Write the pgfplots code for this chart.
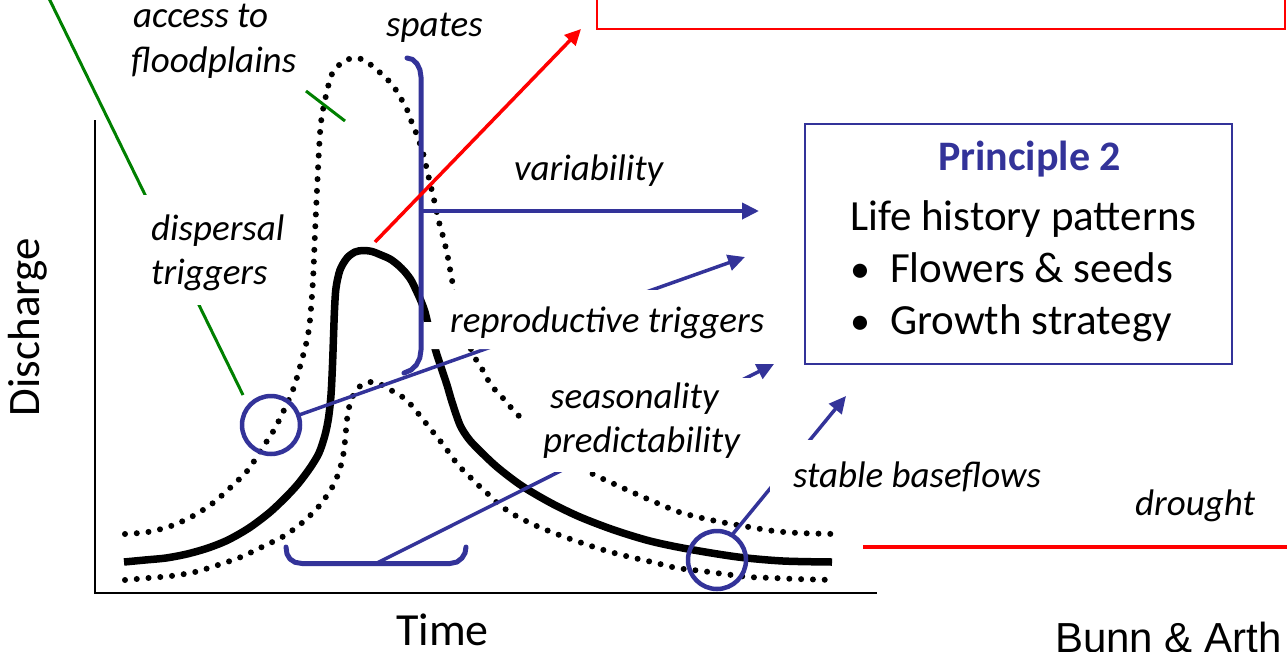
\documentclass[border=0pt]{standalone}
\usepackage{fontspec}
\setmainfont{Carlito}
\newfontfamily\arialfont{Liberation Sans}
\usepackage{pgfplots}
\pgfplotsset{compat=1.18}
\usetikzlibrary{arrows.meta}
\definecolor{pblue}{RGB}{51,51,153}
\definecolor{pgreen}{RGB}{0,128,0}
\definecolor{pred}{RGB}{255,0,0}
\newcommand\lab{\fontsize{37}{44}\selectfont\itshape}
\newcommand\bigtxt{\fontsize{43}{50}\selectfont}
\begin{document}
\begin{tikzpicture}
\begin{axis}[
  width=1287pt, height=651pt, scale only axis,
  xmin=0, xmax=1287, ymin=0, ymax=651, y dir=reverse,
  hide axis, clip=true,
]
% axes of the sketch
\addplot[black, line width=2pt] coordinates {(95,120)(95,593)(877,593)};
% upper dotted envelope
\addplot[black, smooth, line width=6pt, line cap=round, dash pattern=on 0pt off 11.8pt] coordinates {
(125,534)(148,532)(171,526)(193,516)(213,503)(231,487)(248,470)(261,450)(274,430)(285,408)(294,387)(301,363)(307,340)(310,320)(313,280)(315,233)(317,190)(319,150)(321,122)(325,100)(332,74)(344,61)(357,58)(367,62)(377,70)(386,78)(394,87)(400,97)(406,107)(410,118)(415,130)(419,141)(423,153)(427,170)(431,187)(435,204)(439,222)(444,240)(448,258)(452,280)(460,320)(473,354)(481,367)(491,385)(502,397)(516,413)(540,436)(565,456)(591,473)(612,483)(634,493)(657,503)(679,512)(702,518)(726,523)(749,527)(774,531)(799,533)(835,534)};
% lower dotted envelope
\addplot[black, smooth, line width=6pt, line cap=round, dash pattern=on 0pt off 11.8pt] coordinates {
(125,580)(148,578)(171,576)(195,572)(218,565)(241,557)(264,546)(284,536)(303,522)(320,505)(334,484)(341,465)(344,450)(346,430)(348,412)(352,398)(358,388)(366,383)(374,382)(384,386)(394,392)(404,398)(413,407)(421,417)(429,427)(437,437)(445,447)(452,457)(460,467)(469,476)(477,484)(486,492)(495,501)(508,511)(520,518)(539,527)(562,536)(585,544)(607,551)(630,557)(652,562)(677,568)(702,571)(724,574)(749,577)(774,578)(796,579)(835,580)};
% solid hydrograph
\addplot[black, smooth, line width=7.5pt, line cap=butt] coordinates {
(124,562)(145,560)(166,558)(187,554)(208,548)(228,540)(249,528)(269,513)(285,498)(298,484)(310,468)(319,453)(325,435)(328.5,418)(331,395)(332.5,365)(333.5,337)(334.5,310)(336,288)(340,270)(347,258)(355,252)(363,250.5)(372,251.5)(381,255)(390,259)(398,265)(405,272)(411,280)(416,290)(421,301)(425,312)(428,324)(432,338)(437,355)(442,370)(447,385)(452,402)(460,425)(468,438)(477,448)(497,467)(522,486)(551,503)(580,517)(614,530)(650,541)(688,549)(738,557)(783,561)(832,562)};
% green leader lines
\addplot[pgreen, line width=3pt] coordinates {(40,-20)(243,395)};
\addplot[pgreen, line width=3pt] coordinates {(306,91)(345,121)};
% blue brackets
\addplot[pblue, line width=5pt, line join=round, line cap=round] coordinates {
(407,58)(412.4,59.4)(416.9,63.6)(419.9,69.7)(421,77)(421,350)(419.8,358)(416.3,365)(411,370)(404,373)};
\addplot[pblue, line width=5pt, line join=round, line cap=round] coordinates {
(286,547)(287,554)(290,559)(295,562.3)(302,563.5)(450,563.5)(457,562)(462,558)(465,553)(466,547)};
% blue connector lines and arrows
\addplot[pblue, line width=4pt, -{Triangle[length=17pt,width=16pt]}] coordinates {(421,211)(759,211)};
\addplot[pblue, line width=3.5pt, -{Triangle[length=17pt,width=16pt]}] coordinates {(299,415)(745,257)};
\addplot[pblue, line width=3.5pt, -{Triangle[length=17pt,width=16pt]}] coordinates {(377,563)(774,364)};
\addplot[pblue, line width=3.5pt, -{Triangle[length=17pt,width=16pt]}] coordinates {(732,535)(846,396)};
% circles
\addplot[only marks, mark=o, mark size=29pt, mark options={pblue, line width=4.5pt}] coordinates {(271,425)(717,560)};
% red elements
\addplot[pred, line width=3.5pt, -{Triangle[length=16pt,width=15pt]}] coordinates {(375,242)(581,29)};
\addplot[pred, line width=2.5pt] coordinates {(597,-20)(597,29)(1285,29)(1285,-20)};
\addplot[pred, line width=4pt] coordinates {(863,547)(1300,547)};
% principle box
\addplot[pblue, line width=2pt] coordinates {(805,124)(1232,124)(1232,364)(805,364)} -- cycle;
% white backgrounds of labels
\addplot[fill=white, draw=none] coordinates {(424,322)(445,322)(445,290)(780,290)(780,349)(424,349)} -- cycle;
\addplot[fill=white, draw=none] coordinates {(524,378)(752,378)(752,472)(524,472)} -- cycle;
\addplot[fill=white, draw=none] coordinates {(770,440)(1050,440)(1050,500)(770,500)} -- cycle;
\addplot[fill=white, draw=none] coordinates {(140,195)(292,195)(292,305)(140,305)} -- cycle;
% labels
\node[anchor=base west, inner sep=0pt, font=\lab] at (axis cs:133,27) {access to};
\node[anchor=base west, inner sep=0pt, font=\lab] at (axis cs:131,72) {floodplains};
\node[anchor=base west, inner sep=0pt, font=\lab] at (axis cs:386,36) {spates};
\node[anchor=base west, inner sep=0pt, font=\lab] at (axis cs:151,240) {dispersal};
\node[anchor=base west, inner sep=0pt, font=\lab] at (axis cs:151,284) {triggers};
\node[anchor=base west, inner sep=0pt, font=\lab] at (axis cs:514,180) {variability};
\node[anchor=base west, inner sep=0pt, font=\lab] at (axis cs:450,332) {reproductive triggers};
\node[anchor=base west, inner sep=0pt, font=\lab] at (axis cs:550,408) {seasonality};
\node[anchor=base west, inner sep=0pt, font=\lab] at (axis cs:543,452) {predictability};
\node[anchor=base west, inner sep=0pt, font=\lab] at (axis cs:793,487) {stable baseflows};
\node[anchor=base west, inner sep=0pt, font=\lab] at (axis cs:1135,515) {drought};
\node[anchor=base west, inner sep=0pt, font=\fontsize{42}{50}\selectfont\bfseries, text=pblue] at (axis cs:938,170) {Principle 2};
\node[anchor=base west, inner sep=0pt, font=\bigtxt] at (axis cs:850,230) {Life history patterns};
\node[anchor=base, inner sep=0pt, font=\fontsize{40}{48}\selectfont] at (axis cs:860,282) {•};
\node[anchor=base west, inner sep=0pt, font=\bigtxt] at (axis cs:890,282) {Flowers \& seeds};
\node[anchor=base, inner sep=0pt, font=\fontsize{40}{48}\selectfont] at (axis cs:860,334) {•};
\node[anchor=base west, inner sep=0pt, font=\bigtxt] at (axis cs:890,334) {Growth strategy};
\node[anchor=base west, inner sep=0pt, font=\fontsize{46}{52}\selectfont] at (axis cs:396,645) {Time};
\node[anchor=base, rotate=90, inner sep=0pt, font=\fontsize{45}{52}\selectfont] at (axis cs:39,327) {Discharge};
\node[anchor=base west, inner sep=0pt, font=\arialfont\fontsize{42}{48}\selectfont] at (axis cs:1055,652) {Bunn \& Arth};
\end{axis}
\pgfresetboundingbox
\path (current axis.south west) rectangle (current axis.north east);
\end{tikzpicture}
\end{document}
